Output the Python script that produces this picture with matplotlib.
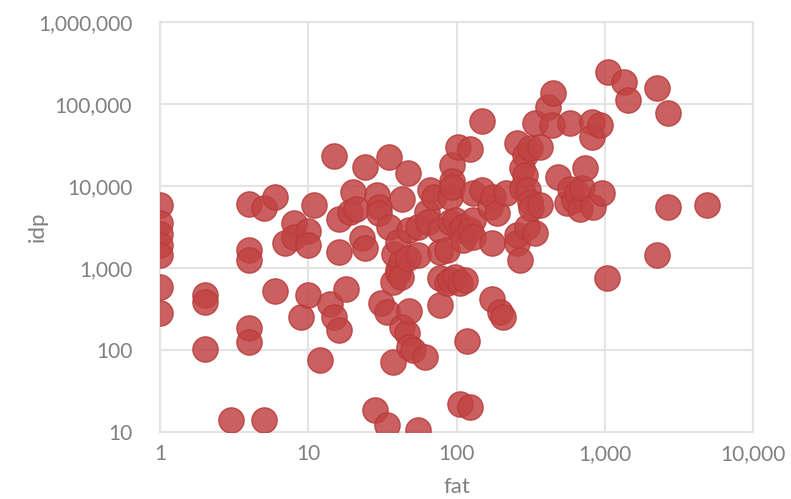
import matplotlib
matplotlib.use("Agg")
import matplotlib.pyplot as plt
from matplotlib.ticker import FuncFormatter, NullLocator

# fat (x) and idp (y), grouped by x
fat = [1, 1, 1, 1, 1, 1, 1,
       2, 2, 2, 3, 4, 4, 4, 4, 4, 5, 5, 6, 6, 7, 8, 8, 9,
       10, 10, 10, 11, 12, 14, 15, 15, 16, 16, 16, 18, 19, 20, 21,
       23, 24, 24, 28, 29, 30, 30, 31, 34, 34, 35, 35, 37, 37, 38,
       40, 40, 40, 42, 42, 43, 43, 46, 47, 47, 48, 48, 48, 51,
       55, 55, 55, 61, 63, 64, 66, 70, 77, 77, 77, 77, 86, 86,
       90, 90, 90, 93, 93, 93, 98, 98, 102, 105, 105, 106, 110, 110,
       114, 118, 123, 123, 123, 130, 130, 130, 148, 148, 168, 174, 174,
       176, 187, 196, 205, 215, 255, 255, 255, 270, 275, 275, 290, 290,
       300, 305, 315, 315, 320, 340, 340, 366, 366, 415, 440, 450, 480,
       555, 580, 580, 620, 650, 680, 700, 735, 820, 820, 830, 930, 960,
       1030, 1050, 1350, 1430, 2250, 2250, 2670, 2670, 4900]
idp = [5900, 3500, 2600, 1900, 1450, 580, 280,
       470, 380, 103, 14, 6000, 1650, 1250, 185, 125, 5400, 14, 7300, 520, 2000, 3500, 2400, 250,
       2800, 1900, 470, 5900, 75, 360, 23000, 250, 4000, 1550, 175, 560, 4800, 8500, 5200,
       2300, 17000, 1750, 18.5, 7800, 5500, 4700, 370, 290, 12, 22500, 3200, 680, 71, 1500,
       2100, 950, 870, 1200, 780, 6900, 190, 160, 14500, 1330, 2900, 300, 110, 100,
       3200, 1450, 10.5, 82, 4800, 3600, 8900, 7400, 2900, 1550, 750, 355, 1650, 650,
       7400, 3600, 720, 18000, 11500, 9700, 3900, 780, 30000, 2900, 650, 22, 3200, 2200,
       720, 130, 28000, 2900, 20, 8300, 3900, 2400, 62000, 8900, 5500, 2000, 420,
       7400, 4700, 290, 250, 8300, 33500, 2500, 2000, 1250, 16500, 9500, 23700, 13500,
       3200, 8900, 29000, 6400, 5400, 58000, 2700, 30000, 5900, 92000, 56000, 135000, 13000,
       6200, 58000, 9300, 6800, 8300, 5200, 9500, 16500, 60000, 40000, 5500, 55000, 8300,
       760, 245000, 186000, 112000, 157000, 1440, 78000, 5500, 5900]

x_ticks = [1, 10, 100, 1000, 10000]
y_ticks = [10, 100, 1000, 10000, 100000, 1000000]

plt.rcParams['font.family'] = ['Lato', 'DejaVu Sans']

fig = plt.figure(figsize=(7.91, 4.99), dpi=100)
ax = fig.add_axes([0.2023, 0.1343, 0.7497, 0.8216])

ax.scatter(fat, idp, s=330, color='#c14443', alpha=0.85,
           edgecolors='#b83a3a', linewidths=1, zorder=3)

ax.set_xscale('log')
ax.set_yscale('log')
ax.set_xlim(1, 10000)
ax.set_ylim(10, 1000000)
ax.set_xticks(x_ticks)
ax.set_yticks(y_ticks)
ax.xaxis.set_minor_locator(NullLocator())
ax.yaxis.set_minor_locator(NullLocator())
fmt = FuncFormatter(lambda v, p: '{:,.0f}'.format(v))
ax.xaxis.set_major_formatter(fmt)
ax.yaxis.set_major_formatter(fmt)

ax.grid(True, color='#e4e4e4', linewidth=1.5, zorder=0)
for sp in ax.spines.values():
    sp.set_color('#e4e4e4')
    sp.set_linewidth(1.5)
ax.tick_params(length=0, labelsize=15, labelcolor='#808080')
ax.tick_params(axis='y', pad=20)
ax.tick_params(axis='x', pad=9)

ax.set_xlabel('fat', fontsize=16, color='#808080', labelpad=9)
ax.set_ylabel('idp', fontsize=16, color='#808080', labelpad=-7)

fig.savefig('out.png', dpi=100)
